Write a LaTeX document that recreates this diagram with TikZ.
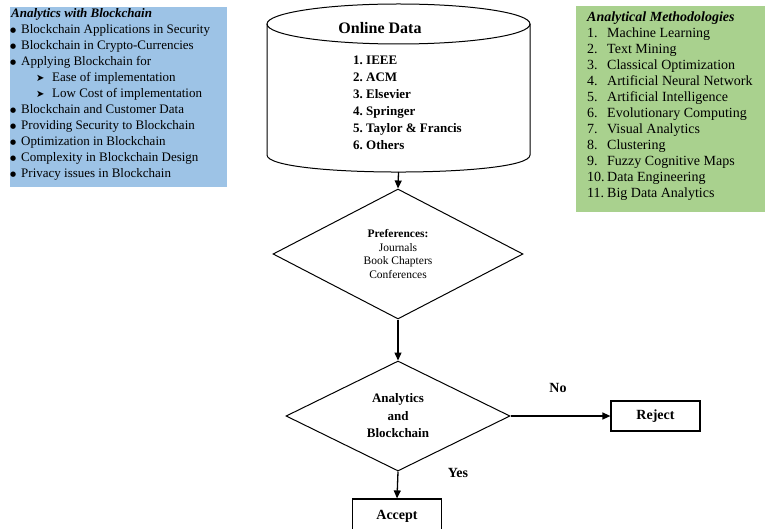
\documentclass[tikz,border=0pt]{standalone}
\usepackage{fontspec}
\setmainfont{Liberation Serif}
\newfontfamily\symfont{DejaVu Sans}
\usetikzlibrary{shapes.geometric,arrows.meta}
\definecolor{topicblue}{RGB}{157,195,230}
\definecolor{methodgreen}{RGB}{169,209,142}
% list markers for the topic panel
\newcommand\topicdot{\makebox[11pt][l]{\raisebox{1pt}{\symfont\fontsize{7}{7}\selectfont ●}}}
\newcommand\topicarrow{\makebox[16pt][l]{\raisebox{0.5pt}{\symfont\fontsize{10}{10}\selectfont ➤}}}

\begin{document}
\begin{tikzpicture}[x=1pt,y=-1pt,
  outline/.style={draw=black,line width=1pt},
  arrowline/.style={draw=black,line width=1.3pt,-{Triangle[length=8pt,width=7pt]}},
  decision/.style={diamond,outline,inner sep=0pt,align=center},
  outcome/.style={rectangle,outline,line width=1.2pt,minimum width=89pt,
    font=\fontsize{14}{16}\selectfont\bfseries},
  topic/.style={anchor=base west,inner sep=0pt,font=\fontsize{13}{16}\selectfont},
  method/.style={anchor=base west,inner sep=0pt,font=\fontsize{14}{16}\selectfont},
  source/.style={anchor=base west,inner sep=0pt,font=\fontsize{13}{17}\selectfont\bfseries},
  tag/.style={inner sep=0pt,font=\fontsize{14}{16}\selectfont\bfseries}
]
\useasboundingbox (0,0) rectangle (767,529);
\clip (0,0) rectangle (767,529);

% ---- topic panel (left) ----
\fill[topicblue] (10,7) rectangle (227,187);
\node[topic,font=\fontsize{13}{16}\selectfont\bfseries\itshape] (t0) at (11,18) {Analytics with Blockchain};
\node[topic] (t1) at (10,34) {\topicdot Blockchain Applications in Security};
\node[topic] (t2) at (10,50) {\topicdot Blockchain in Crypto-Currencies};
\node[topic] (t3) at (10,66) {\topicdot Applying Blockchain for};
\node[topic] (t4) at (36,82) {\topicarrow Ease of implementation};
\node[topic] (t5) at (36,98) {\topicarrow Low Cost of implementation};
\node[topic] (t6) at (10,114) {\topicdot Blockchain and Customer Data};
\node[topic] (t7) at (10,130) {\topicdot Providing Security to Blockchain};
\node[topic] (t8) at (10,146) {\topicdot Optimization in Blockchain};
\node[topic] (t9) at (10,162) {\topicdot Complexity in Blockchain Design};
\node[topic] (t10) at (10,178) {\topicdot Privacy issues in Blockchain};

% ---- methodology panel (right) ----
\fill[methodgreen] (576,6) rectangle (765,212);
\node[method,font=\fontsize{14}{16}\selectfont\bfseries\itshape] (m0) at (587,22) {Analytical Methodologies};
\foreach \n/\txt in {1/Machine Learning,2/Text Mining,3/Classical Optimization,
    4/Artificial Neural Network,5/Artificial Intelligence,6/Evolutionary Computing,
    7/Visual Analytics,8/Clustering,9/Fuzzy Cognitive Maps,10/Data Engineering,
    11/Big Data Analytics}
  \node[method] (m\n) at (587,22+16*\n) {\makebox[20pt][l]{\n.}\txt};

% ---- data source cylinder ----
\draw[outline,fill=white] (267,24) -- (267,155) .. controls (267,177.7) and (530,177.7) .. (530,155) -- (530,24);
\draw[outline] (398.5,24) ellipse [x radius=131.5, y radius=20];
\coordinate (dbbot) at (398.5,172);
\node[inner sep=0pt,anchor=base,font=\fontsize{16}{18}\selectfont\bfseries] (dbtitle) at (380,33.5) {Online Data};
\foreach \n/\txt in {1/IEEE,2/ACM,3/Elsevier,4/Springer,5/Taylor \& Francis,6/Others}
  \node[source] (s\n) at (353,48+17*\n) {\makebox[13pt][l]{\n.}\txt};

% ---- decisions ----
\node[decision,minimum width=250pt,minimum height=130pt,
  font=\fontsize{11.5}{13.7}\selectfont] (pref) at (398,254)
  {\textbf{Preferences:}\\Journals\\Book Chapters\\Conferences};
\node[decision,minimum width=224pt,minimum height=110pt,
  font=\fontsize{13}{17.5}\selectfont\bfseries] (check) at (398,416)
  {Analytics\\and\\Blockchain};

% ---- outcomes ----
\node[outcome,minimum height=30pt] (reject) at (655.5,416) {Reject};
\node[outcome,minimum height=34pt] (accept) at (397,516) {Accept};

% ---- connectors ----
\draw[arrowline] (dbbot) -- (pref.north);
\draw[arrowline] (pref.south) -- (check.north);
\draw[arrowline] (check.east) -- (reject.west);
\draw[arrowline] (check.south) -- (accept.north);
\node[tag] (no) at (558,388) {No};
\node[tag] (yes) at (458,473) {Yes};
\end{tikzpicture}
\end{document}
